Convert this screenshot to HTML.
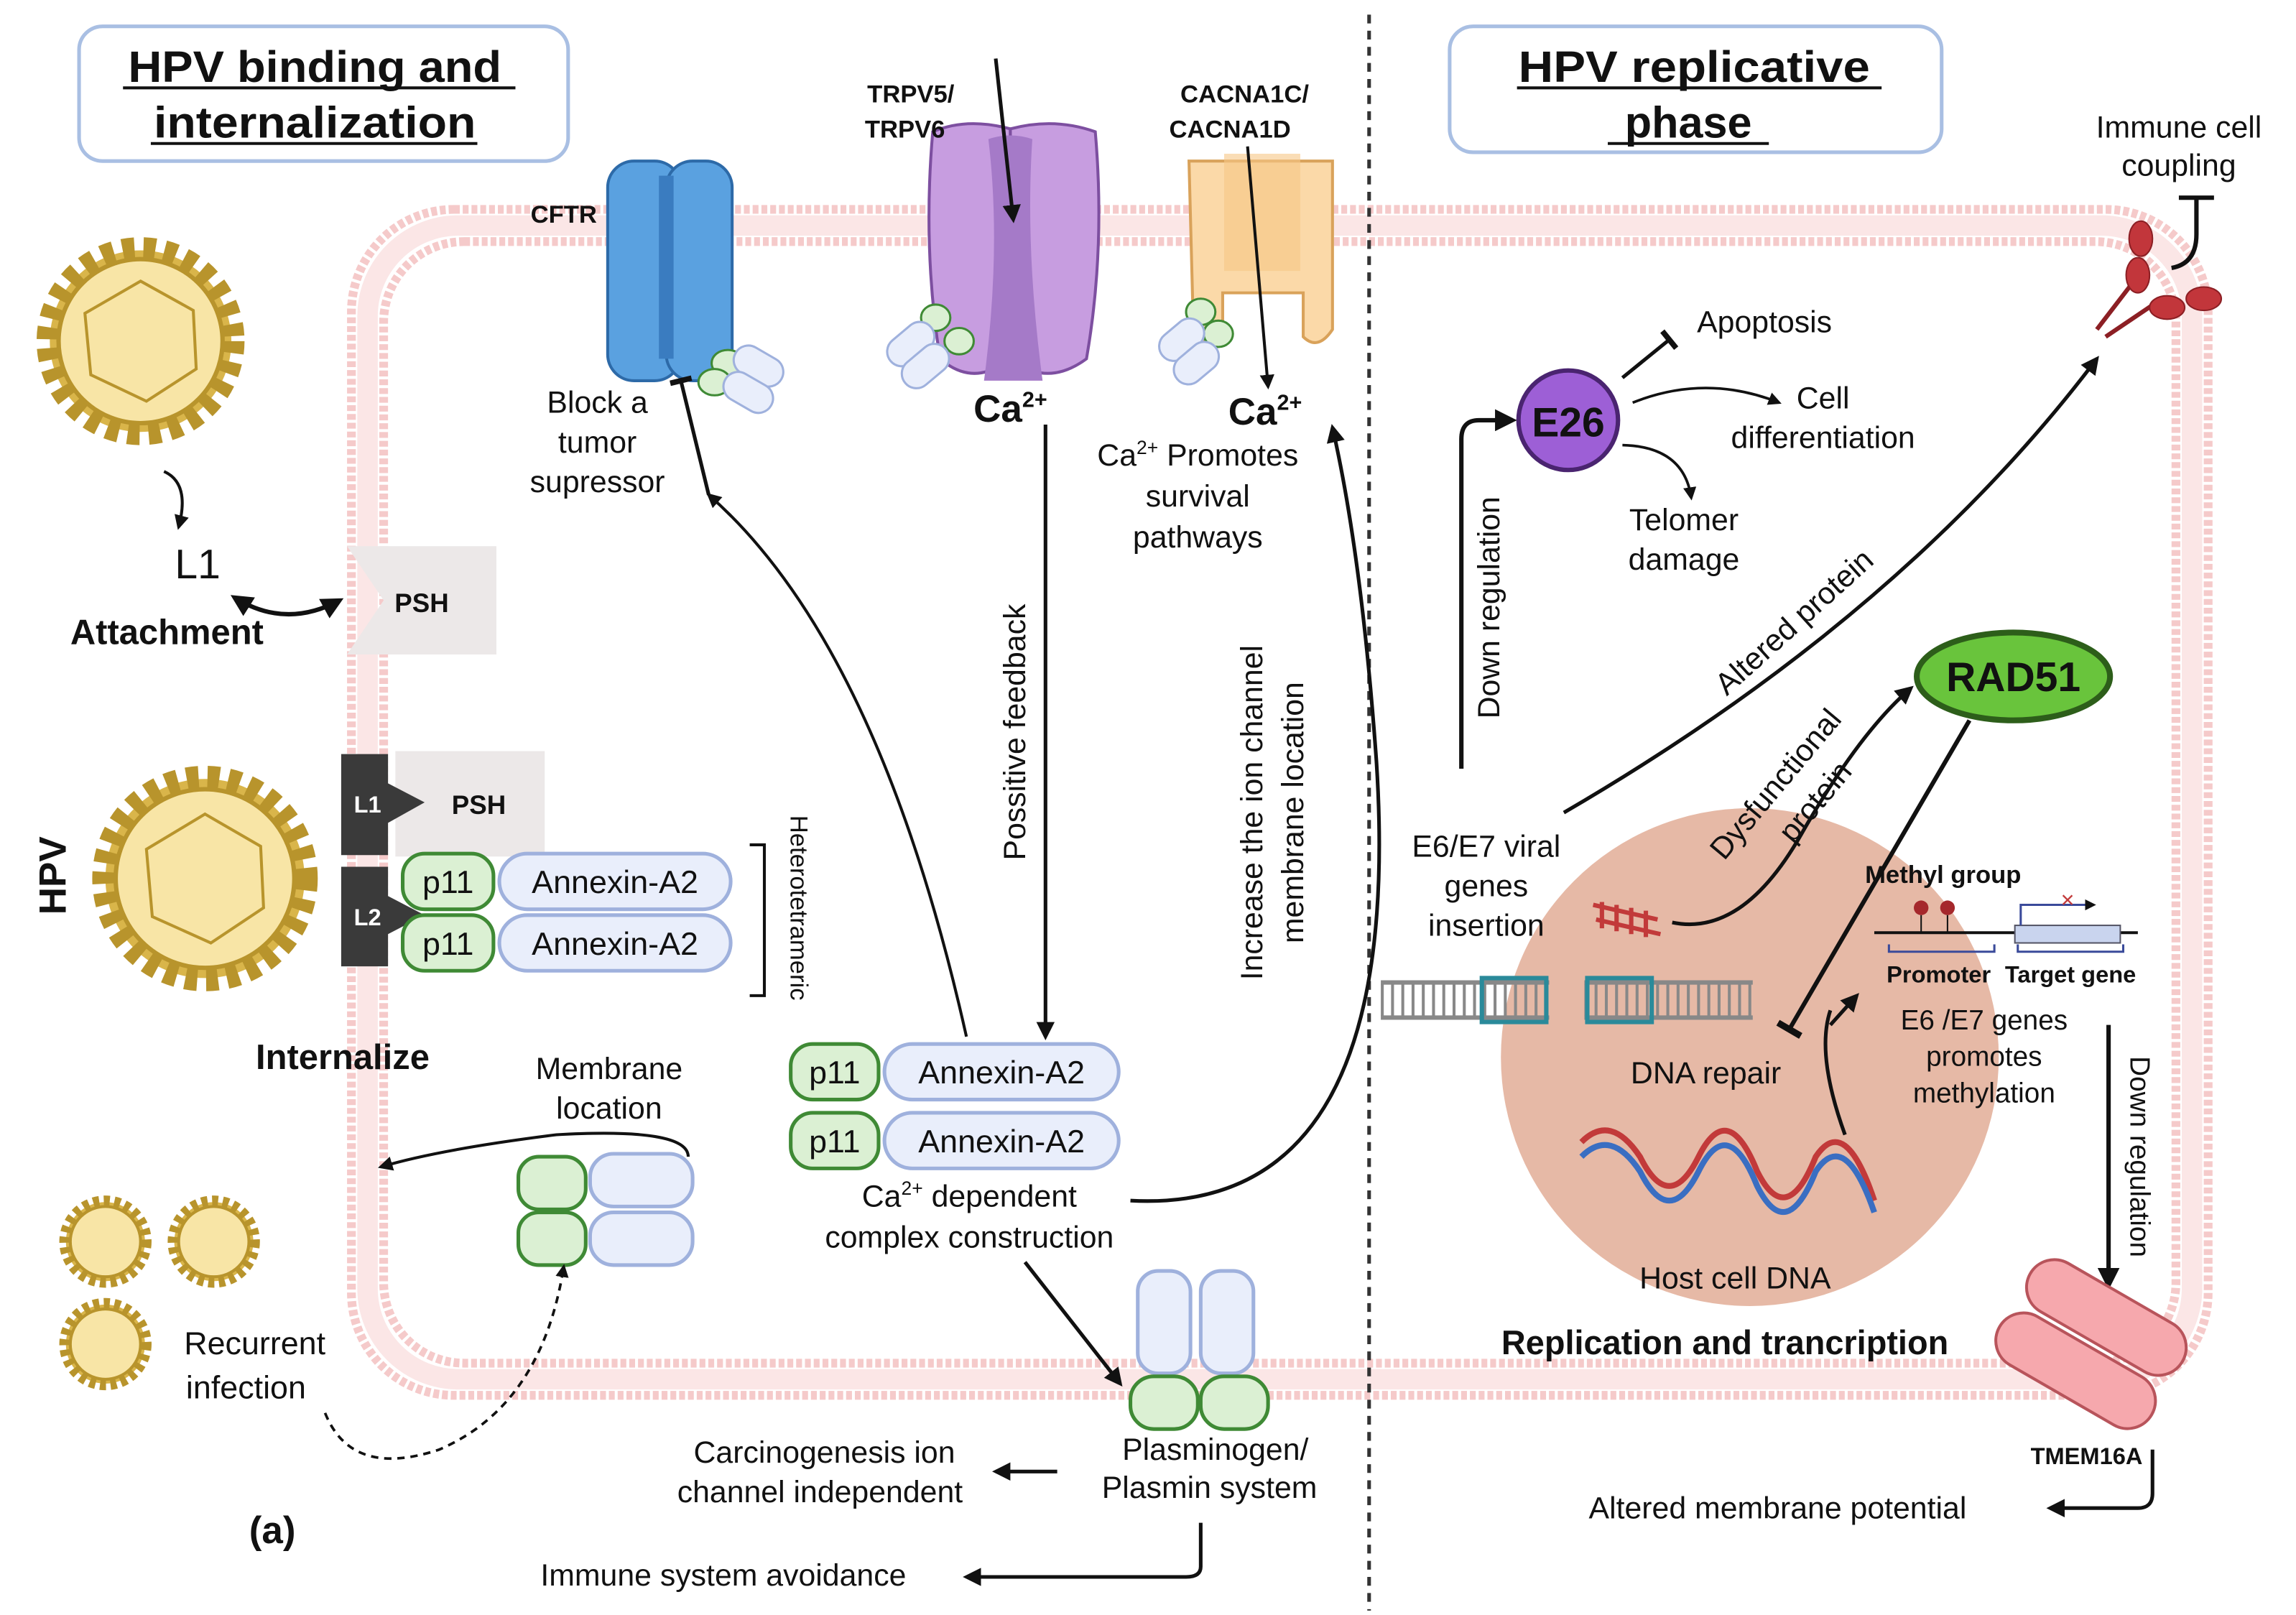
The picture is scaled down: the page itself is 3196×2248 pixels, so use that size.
<!DOCTYPE html>
<html><head><meta charset="utf-8"><style>
html,body{margin:0;padding:0;background:#fff}
svg{display:block}
text{font-family:"Liberation Sans",sans-serif;fill:#111}
.b{font-weight:bold}
</style></head><body>
<svg width="3196" height="2248" viewBox="0 0 1568 1103" preserveAspectRatio="none" xmlns="http://www.w3.org/2000/svg">
<defs>
<marker id="ar" viewBox="0 0 10 10" refX="8" refY="5" markerWidth="5" markerHeight="5" orient="auto-start-reverse"><path d="M0,0L10,5L0,10z" fill="#111"/></marker>
<marker id="tb" viewBox="0 0 10 10" refX="5" refY="5" markerWidth="6" markerHeight="6" orient="auto"><path d="M5,0L5,10" stroke="#111" stroke-width="2.5"/></marker>
</defs>
<rect width="1568" height="1103" fill="#fff"/>

<!-- membrane -->
<rect x="240" y="143" width="1268" height="810" rx="70" fill="none" stroke="#f5caca" stroke-width="6" stroke-dasharray="4 2"/>
<rect x="262" y="165" width="1224" height="766" rx="55" fill="none" stroke="#f5caca" stroke-width="6" stroke-dasharray="4 2"/>
<rect x="251" y="154" width="1246" height="788" rx="62" fill="none" stroke="#fbe6e6" stroke-width="14"/>

<line x1="935" y1="10" x2="935" y2="1100" stroke="#333" stroke-width="2.5" stroke-dasharray="6 5"/>

<rect x="54" y="18" width="334" height="92" rx="16" fill="#fff" stroke="#a9bfe3" stroke-width="2.5"/>
<text x="215" y="56" text-anchor="middle" font-size="30" class="b" textLength="255" lengthAdjust="spacingAndGlyphs">HPV binding and</text>
<line x1="84" y1="60" x2="352" y2="60" stroke="#111" stroke-width="2"/>
<text x="215" y="94" text-anchor="middle" font-size="30" class="b" textLength="220" lengthAdjust="spacingAndGlyphs">internalization</text>
<line x1="103" y1="98" x2="326" y2="98" stroke="#111" stroke-width="2"/>
<rect x="990" y="18" width="336" height="86" rx="16" fill="#fff" stroke="#a9bfe3" stroke-width="2.5"/>
<text x="1157" y="56" text-anchor="middle" font-size="30" class="b" textLength="240" lengthAdjust="spacingAndGlyphs">HPV replicative</text>
<line x1="1036" y1="60" x2="1285" y2="60" stroke="#111" stroke-width="2"/>
<text x="1153" y="94" text-anchor="middle" font-size="30" class="b">phase</text>
<line x1="1098" y1="98" x2="1208" y2="98" stroke="#111" stroke-width="2"/>

<g fill="#d9b54a" stroke="#b8942c">
<circle cx="96" cy="233" r="62" stroke-dasharray="8 6" stroke-width="18"/>
<circle cx="96" cy="233" r="56" fill="#f8e5a6" stroke-width="3"/>
<circle cx="140" cy="600" r="68" stroke-dasharray="8 6" stroke-width="18"/>
<circle cx="140" cy="600" r="61" fill="#f8e5a6" stroke-width="3"/>
<circle cx="72" cy="848" r="27" stroke-dasharray="4 3" stroke-width="9"/>
<circle cx="72" cy="848" r="24" fill="#f8e5a6" stroke-width="2"/>
<circle cx="146" cy="848" r="27" stroke-dasharray="4 3" stroke-width="9"/>
<circle cx="146" cy="848" r="24" fill="#f8e5a6" stroke-width="2"/>
<circle cx="72" cy="918" r="27" stroke-dasharray="4 3" stroke-width="9"/>
<circle cx="72" cy="918" r="24" fill="#f8e5a6" stroke-width="2"/>
</g>
<polygon points="96,192 132,212 134,252 100,274 62,256 58,214" fill="none" stroke="#b8942c" stroke-width="2"/>
<polygon points="140,556 178,578 180,620 144,644 104,626 100,580" fill="none" stroke="#b8942c" stroke-width="2"/>

<path d="M112,322 Q130,330 122,360" fill="none" stroke="#111" stroke-width="2" marker-end="url(#ar)"/>
<text x="135" y="395" text-anchor="middle" font-size="28">L1</text>
<text x="114" y="440" text-anchor="middle" font-size="24" class="b">Attachment</text>
<path d="M160,408 Q195,430 232,410" fill="none" stroke="#111" stroke-width="3" marker-start="url(#ar)" marker-end="url(#ar)"/>
<path d="M237,373 H339 V447 H237 L262,410 Z" fill="#ece8e8"/>
<text x="288" y="418" text-anchor="middle" font-size="18" class="b">PSH</text>

<text transform="translate(45,598) rotate(-90)" text-anchor="middle" font-size="26" class="b">HPV</text>
<path d="M270,513 H372 V585 H270 Z" fill="#ece8e8"/>
<text x="327" y="556" text-anchor="middle" font-size="18" class="b">PSH</text>
<path d="M233,515 H265 V535 L290,548 L265,562 V584 H233 Z" fill="#3a3a3a"/>
<text x="251" y="555" text-anchor="middle" font-size="16" class="b" style="fill:#fff">L1</text>
<path d="M233,592 H265 V612 L290,625 L265,638 V660 H233 Z" fill="#3a3a3a"/>
<text x="251" y="632" text-anchor="middle" font-size="16" class="b" style="fill:#fff">L2</text>
<g stroke-width="2.5">
<rect x="275" y="583" width="62" height="38" rx="15" fill="#dbf0d3" stroke="#3f8a35"/>
<rect x="275" y="625" width="62" height="38" rx="15" fill="#dbf0d3" stroke="#3f8a35"/>
<rect x="341" y="583" width="158" height="38" rx="19" fill="#e9eefb" stroke="#9fb1dd"/>
<rect x="341" y="625" width="158" height="38" rx="19" fill="#e9eefb" stroke="#9fb1dd"/>
</g>
<text x="306" y="610" text-anchor="middle" font-size="22">p11</text>
<text x="306" y="652" text-anchor="middle" font-size="22">p11</text>
<text x="420" y="610" text-anchor="middle" font-size="22">Annexin-A2</text>
<text x="420" y="652" text-anchor="middle" font-size="22">Annexin-A2</text>
<path d="M512,577 H522 V680 H512" fill="none" stroke="#111" stroke-width="2"/>
<text transform="translate(540,620) rotate(90)" text-anchor="middle" font-size="17">Heterotetrameric</text>
<text x="234" y="730" text-anchor="middle" font-size="24" class="b">Internalize</text>

<text x="416" y="737" text-anchor="middle" font-size="21">Membrane</text>
<text x="416" y="764" text-anchor="middle" font-size="21">location</text>
<path d="M470,790 Q470,770 380,775 Q300,785 260,797" fill="none" stroke="#111" stroke-width="2" marker-end="url(#ar)"/>
<g stroke-width="2.5">
<rect x="354" y="790" width="46" height="36" rx="14" fill="#dbf0d3" stroke="#3f8a35"/>
<rect x="354" y="828" width="46" height="36" rx="14" fill="#dbf0d3" stroke="#3f8a35"/>
<rect x="403" y="788" width="70" height="36" rx="16" fill="#e9eefb" stroke="#9fb1dd"/>
<rect x="403" y="828" width="70" height="36" rx="16" fill="#e9eefb" stroke="#9fb1dd"/>
</g>
<text x="174" y="925" text-anchor="middle" font-size="22">Recurrent</text>
<text x="168" y="955" text-anchor="middle" font-size="22">infection</text>
<path d="M222,965 Q240,1010 300,990 Q370,960 385,865" fill="none" stroke="#111" stroke-width="1.8" stroke-dasharray="5 4" marker-end="url(#ar)"/>
<text x="186" y="1054" text-anchor="middle" font-size="26" class="b">(a)</text>

<rect x="415" y="110" width="50" height="150" rx="18" fill="#5aa1e0" stroke="#2d6aa8" stroke-width="2"/>
<rect x="455" y="110" width="45" height="150" rx="18" fill="#5aa1e0" stroke="#2d6aa8" stroke-width="2"/>
<rect x="450" y="120" width="10" height="125" fill="#3a7cc0"/>
<text x="385" y="152" text-anchor="middle" font-size="17" class="b">CFTR</text>
<g stroke-width="1.5">
<ellipse cx="497" cy="248" rx="11" ry="9" fill="#dbf0d3" stroke="#3f8a35"/>
<ellipse cx="488" cy="261" rx="11" ry="9" fill="#dbf0d3" stroke="#3f8a35"/>
<rect x="500" y="240" width="36" height="20" rx="10" fill="#e9eefb" stroke="#9fb1dd" transform="rotate(30 518 250)"/>
<rect x="493" y="258" width="36" height="20" rx="10" fill="#e9eefb" stroke="#9fb1dd" transform="rotate(30 511 268)"/>
</g>
<text x="408" y="282" text-anchor="middle" font-size="21">Block a</text>
<text x="408" y="309" text-anchor="middle" font-size="21">tumor</text>
<text x="408" y="336" text-anchor="middle" font-size="21">supressor</text>
<path d="M484,338 L465,260" fill="none" stroke="#111" stroke-width="2.5" marker-end="url(#tb)"/>
<path d="M660,708 Q600,440 484,338" fill="none" stroke="#111" stroke-width="2" marker-end="url(#ar)"/>

<path d="M637,90 Q660,80 690,88 V245 Q665,265 642,245 Q630,170 637,90Z" fill="#c79de0" stroke="#7d4fa0" stroke-width="2"/>
<path d="M690,88 Q720,80 748,90 Q755,170 742,245 Q715,265 690,245Z" fill="#c79de0" stroke="#7d4fa0" stroke-width="2"/>
<path d="M675,95 Q690,90 705,95 Q700,170 712,260 H672 Q684,170 675,95Z" fill="#a57ac8"/>
<text x="622" y="70" text-anchor="middle" font-size="17" class="b">TRPV5/</text>
<text x="618" y="94" text-anchor="middle" font-size="17" class="b">TRPV6</text>
<line x1="680" y1="40" x2="692" y2="150" stroke="#111" stroke-width="2.5" marker-end="url(#ar)"/>
<g stroke-width="1.5">
<ellipse cx="639" cy="217" rx="10" ry="9" fill="#dbf0d3" stroke="#3f8a35"/>
<ellipse cx="655" cy="233" rx="10" ry="9" fill="#dbf0d3" stroke="#3f8a35"/>
<rect x="604" y="225" width="36" height="20" rx="10" fill="#e9eefb" stroke="#9fb1dd" transform="rotate(-40 622 235)"/>
<rect x="614" y="240" width="36" height="20" rx="10" fill="#e9eefb" stroke="#9fb1dd" transform="rotate(-40 632 250)"/>
</g>
<text x="690" y="288" text-anchor="middle" font-size="26" class="b">Ca<tspan font-size="15" dy="-10">2+</tspan></text>
<line x1="714" y1="290" x2="714" y2="708" stroke="#111" stroke-width="2.5" marker-end="url(#ar)"/>
<text transform="translate(700,500) rotate(-90)" text-anchor="middle" font-size="21">Possitive feedback</text>

<path d="M812,110 H910 V225 Q900,240 890,230 V200 H835 V230 Q825,240 815,225Z" fill="#fbd9a8" stroke="#d9a25a" stroke-width="2"/>
<rect x="836" y="105" width="52" height="80" fill="#f7c786" opacity=".6"/>
<text x="850" y="70" text-anchor="middle" font-size="17" class="b">CACNA1C/</text>
<text x="840" y="94" text-anchor="middle" font-size="17" class="b">CACNA1D</text>
<line x1="852" y1="100" x2="866" y2="264" stroke="#111" stroke-width="2" marker-end="url(#ar)"/>
<g stroke-width="1.5">
<ellipse cx="820" cy="213" rx="10" ry="9" fill="#dbf0d3" stroke="#3f8a35"/>
<ellipse cx="832" cy="228" rx="10" ry="9" fill="#dbf0d3" stroke="#3f8a35"/>
<rect x="790" y="222" width="34" height="20" rx="10" fill="#e9eefb" stroke="#9fb1dd" transform="rotate(-40 807 232)"/>
<rect x="800" y="238" width="34" height="20" rx="10" fill="#e9eefb" stroke="#9fb1dd" transform="rotate(-40 817 248)"/>
</g>
<text x="864" y="290" text-anchor="middle" font-size="26" class="b">Ca<tspan font-size="15" dy="-10">2+</tspan></text>
<text x="818" y="318" text-anchor="middle" font-size="21">Ca<tspan font-size="13" dy="-8">2+</tspan><tspan dy="8"> Promotes</tspan></text>
<text x="818" y="346" text-anchor="middle" font-size="21">survival</text>
<text x="818" y="374" text-anchor="middle" font-size="21">pathways</text>
<path d="M772,820 Q960,830 940,520 Q930,380 910,292" fill="none" stroke="#111" stroke-width="2.5" marker-end="url(#ar)"/>
<text transform="translate(862,555) rotate(-90)" text-anchor="middle" font-size="21">Increase the ion channel</text>
<text transform="translate(890,555) rotate(-90)" text-anchor="middle" font-size="21">membrane location</text>

<g stroke-width="2.5">
<rect x="540" y="713" width="60" height="38" rx="15" fill="#dbf0d3" stroke="#3f8a35"/>
<rect x="540" y="760" width="60" height="38" rx="15" fill="#dbf0d3" stroke="#3f8a35"/>
<rect x="604" y="713" width="160" height="38" rx="19" fill="#e9eefb" stroke="#9fb1dd"/>
<rect x="604" y="760" width="160" height="38" rx="19" fill="#e9eefb" stroke="#9fb1dd"/>
</g>
<text x="570" y="740" text-anchor="middle" font-size="22">p11</text>
<text x="570" y="787" text-anchor="middle" font-size="22">p11</text>
<text x="684" y="740" text-anchor="middle" font-size="22">Annexin-A2</text>
<text x="684" y="787" text-anchor="middle" font-size="22">Annexin-A2</text>
<text x="662" y="824" text-anchor="middle" font-size="21">Ca<tspan font-size="13" dy="-8">2+</tspan><tspan dy="8"> dependent</tspan></text>
<text x="662" y="852" text-anchor="middle" font-size="21">complex construction</text>
<path d="M700,862 L765,945" stroke="#111" stroke-width="2.5" marker-end="url(#ar)"/>
<g stroke-width="2.5">
<rect x="777" y="868" width="36" height="70" rx="14" fill="#e9eefb" stroke="#9fb1dd"/>
<rect x="820" y="868" width="36" height="70" rx="14" fill="#e9eefb" stroke="#9fb1dd"/>
<rect x="772" y="940" width="46" height="36" rx="16" fill="#dbf0d3" stroke="#3f8a35"/>
<rect x="820" y="940" width="46" height="36" rx="16" fill="#dbf0d3" stroke="#3f8a35"/>
</g>
<text x="830" y="997" text-anchor="middle" font-size="21">Plasminogen/</text>
<text x="826" y="1023" text-anchor="middle" font-size="21">Plasmin system</text>
<line x1="722" y1="1005" x2="680" y2="1005" stroke="#111" stroke-width="2.5" marker-end="url(#ar)"/>
<text x="563" y="999" text-anchor="middle" font-size="21">Carcinogenesis ion</text>
<text x="560" y="1026" text-anchor="middle" font-size="21">channel independent</text>
<path d="M820,1040 V1070 Q820,1077 810,1077 H660" fill="none" stroke="#111" stroke-width="2.5" marker-end="url(#ar)"/>
<text x="494" y="1083" text-anchor="middle" font-size="21">Immune system avoidance</text>

<text x="1488" y="94" text-anchor="middle" font-size="21">Immune cell</text>
<text x="1488" y="120" text-anchor="middle" font-size="21">coupling</text>
<path d="M1483,183 Q1500,180 1500,160 V135 M1488,135 H1512" fill="none" stroke="#111" stroke-width="3"/>
<g fill="#c2363b" stroke="#8c1f24">
<line x1="1438" y1="230" x2="1475" y2="205" stroke-width="3"/>
<line x1="1432" y1="225" x2="1455" y2="195" stroke-width="3"/>
<ellipse cx="1462" cy="163" rx="8" ry="12"/>
<ellipse cx="1460" cy="188" rx="8" ry="12"/>
<ellipse cx="1480" cy="210" rx="12" ry="8"/>
<ellipse cx="1505" cy="204" rx="12" ry="8"/>
</g>
<circle cx="1071" cy="287" r="34" fill="#9d5fd6" stroke="#4a2470" stroke-width="3"/>
<text x="1071" y="298" text-anchor="middle" font-size="28" class="b">E26</text>
<path d="M998,525 V300 Q998,287 1010,287 H1033" fill="none" stroke="#111" stroke-width="3" marker-end="url(#ar)"/>
<text transform="translate(1024,415) rotate(-90)" text-anchor="middle" font-size="21">Down regulation</text>
<line x1="1108" y1="258" x2="1140" y2="232" stroke="#111" stroke-width="2.5" marker-end="url(#tb)"/>
<text x="1205" y="227" text-anchor="middle" font-size="21">Apoptosis</text>
<path d="M1115,275 Q1165,255 1215,275" fill="none" stroke="#111" stroke-width="1.8" marker-end="url(#ar)"/>
<text x="1245" y="279" text-anchor="middle" font-size="21">Cell</text>
<text x="1245" y="306" text-anchor="middle" font-size="21">differentiation</text>
<path d="M1108,304 Q1150,305 1155,340" fill="none" stroke="#111" stroke-width="1.8" marker-end="url(#ar)"/>
<text x="1150" y="362" text-anchor="middle" font-size="21">Telomer</text>
<text x="1150" y="389" text-anchor="middle" font-size="21">damage</text>
<path d="M1068,555 Q1300,420 1432,245" fill="none" stroke="#111" stroke-width="2.5" marker-end="url(#ar)"/>
<text transform="translate(1230,430) rotate(-42)" text-anchor="middle" font-size="21">Altered protein</text>
<ellipse cx="1375" cy="462" rx="66" ry="30" fill="#69c43c" stroke="#2d5e1a" stroke-width="4"/>
<text x="1375" y="472" text-anchor="middle" font-size="28" class="b">RAD51</text>

<circle cx="1195" cy="722" r="170" fill="#e6b9a6"/>
<text x="1015" y="585" text-anchor="middle" font-size="21">E6/E7 viral</text>
<text x="1015" y="612" text-anchor="middle" font-size="21">genes</text>
<text x="1015" y="639" text-anchor="middle" font-size="21">insertion</text>
<path d="M1142,630 Q1190,640 1230,570 Q1270,500 1305,470" fill="none" stroke="#111" stroke-width="2.5" marker-end="url(#ar)"/>
<text transform="translate(1218,540) rotate(-50)" text-anchor="middle" font-size="21">Dysfunctional</text>
<text transform="translate(1245,552) rotate(-50)" text-anchor="middle" font-size="21">protein</text>
<line x1="1345" y1="492" x2="1222" y2="703" stroke="#111" stroke-width="3" marker-end="url(#tb)"/>
<g stroke="#c23a3a" stroke-width="3"><line x1="1088" y1="618" x2="1132" y2="628"/><line x1="1090" y1="628" x2="1134" y2="638"/><line x1="1094" y1="616" x2="1094" y2="634"/><line x1="1104" y1="618" x2="1104" y2="636"/><line x1="1114" y1="620" x2="1114" y2="638"/><line x1="1124" y1="622" x2="1124" y2="640"/></g>
<g stroke="#888" stroke-width="3">
<line x1="943" y1="671" x2="1058" y2="671"/><line x1="943" y1="695" x2="1058" y2="695"/>
<line x1="1082" y1="671" x2="1197" y2="671"/><line x1="1082" y1="695" x2="1197" y2="695"/>
</g>
<g stroke="#888" stroke-dasharray="2 5">
<line x1="943" y1="683" x2="1058" y2="683" stroke-width="22"/>
<line x1="1082" y1="683" x2="1197" y2="683" stroke-width="22"/>
</g>
<rect x="1012" y="668" width="44" height="30" fill="none" stroke="#2a8a9a" stroke-width="3"/>
<rect x="1084" y="668" width="44" height="30" fill="none" stroke="#2a8a9a" stroke-width="3"/>
<text x="1165" y="740" text-anchor="middle" font-size="21">DNA repair</text>
<path d="M1080,780 Q1100,760 1120,790 Q1140,830 1160,790 Q1180,750 1200,800 Q1220,840 1240,790 Q1260,760 1280,820" fill="none" stroke="#c23a3a" stroke-width="4"/>
<path d="M1080,790 Q1100,770 1120,800 Q1140,840 1160,800 Q1180,760 1200,810 Q1220,850 1240,800 Q1260,770 1280,828" fill="none" stroke="#3a6ec2" stroke-width="4"/>
<text x="1185" y="880" text-anchor="middle" font-size="21">Host cell DNA</text>
<path d="M1260,775 Q1240,720 1250,690" fill="none" stroke="#111" stroke-width="2.5"/>
<line x1="1250" y1="700" x2="1268" y2="680" stroke="#111" stroke-width="2.5" marker-end="url(#ar)"/>
<text x="1327" y="603" text-anchor="middle" font-size="17" class="b">Methyl group</text>
<line x1="1280" y1="637" x2="1460" y2="637" stroke="#111" stroke-width="2"/>
<circle cx="1312" cy="620" r="5" fill="#a5282c"/><circle cx="1330" cy="620" r="5" fill="#a5282c"/>
<line x1="1312" y1="625" x2="1312" y2="637" stroke="#111"/><line x1="1330" y1="625" x2="1330" y2="637" stroke="#111"/>
<rect x="1376" y="632" width="72" height="12" fill="#c9d4ee" stroke="#556" stroke-width="1"/>
<path d="M1380,632 V618 H1430" fill="none" stroke="#3a4a9a" stroke-width="1.5" marker-end="url(#ar)"/>
<text x="1412" y="620" text-anchor="middle" font-size="16" style="fill:#c23a3a">×</text>
<path d="M1290,645 V650 H1362 V645 M1378,645 V650 H1450 V645" fill="none" stroke="#3a4a9a" stroke-width="1.5"/>
<text x="1324" y="671" text-anchor="middle" font-size="16" class="b">Promoter</text>
<text x="1414" y="671" text-anchor="middle" font-size="16" class="b">Target gene</text>
<text x="1355" y="703" text-anchor="middle" font-size="19">E6 /E7 genes</text>
<text x="1355" y="728" text-anchor="middle" font-size="19">promotes</text>
<text x="1355" y="753" text-anchor="middle" font-size="19">methylation</text>
<path d="M1440,700 V878" stroke="#111" stroke-width="3" marker-end="url(#ar)"/>
<text transform="translate(1455,790) rotate(90)" text-anchor="middle" font-size="19">Down regulation</text>
<text x="1178" y="925" text-anchor="middle" font-size="23" class="b">Replication and trancription</text>

<g transform="rotate(30 1428 918)">
<rect x="1368" y="878" width="120" height="38" rx="19" fill="#f6a8ad" stroke="#b8545b" stroke-width="2"/>
<rect x="1368" y="920" width="120" height="38" rx="19" fill="#f6a8ad" stroke="#b8545b" stroke-width="2"/>
</g>
<text x="1425" y="1000" text-anchor="middle" font-size="16" class="b">TMEM16A</text>
<path d="M1470,990 V1020 Q1470,1030 1460,1030 H1400" fill="none" stroke="#111" stroke-width="2.5" marker-end="url(#ar)"/>
<text x="1214" y="1037" text-anchor="middle" font-size="21">Altered membrane potential</text>
</svg>
</body></html>
